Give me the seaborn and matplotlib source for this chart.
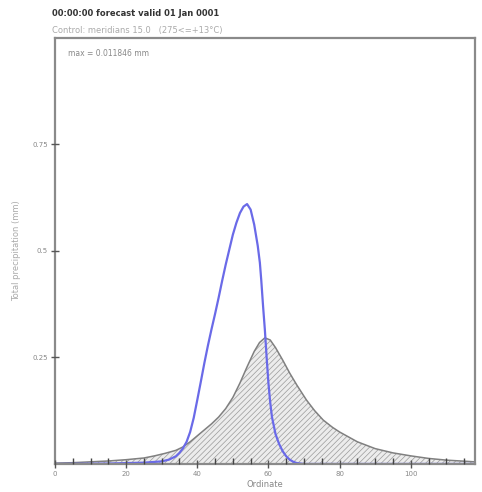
import numpy as np
import pandas as pd
import matplotlib
matplotlib.use("Agg")
import matplotlib.pyplot as plt
import seaborn as sns

# Data
blue_x = [0, 15, 25, 30, 32, 34, 35, 36, 37, 38, 39, 40, 41, 42, 43, 44, 45, 46, 47, 48, 49, 50,
          51, 52, 53, 54, 55, 56, 57, 57.6, 58, 58.5, 59, 59.5, 60, 60.5, 61, 62, 63, 64, 65, 66,
          67, 68, 70, 118]
blue_y = [0.0, 0.001, 0.003, 0.006, 0.01, 0.018, 0.026, 0.037, 0.052, 0.075, 0.108, 0.15, 0.193,
          0.237, 0.278, 0.316, 0.352, 0.39, 0.43, 0.468, 0.503, 0.538, 0.566, 0.589, 0.604,
          0.61, 0.597, 0.562, 0.512, 0.472, 0.43, 0.37, 0.315, 0.25, 0.19, 0.145, 0.11, 0.07,
          0.047, 0.03, 0.018, 0.01, 0.005, 0.002, 0.0, 0.0]

gray_x = [0, 5, 10, 15, 20, 25, 28, 31, 34, 36, 38, 40, 42, 44, 46, 48, 50, 52, 54, 56, 57.5,
          59, 60.5, 62, 64, 66, 68, 70.7, 73, 75.4, 78, 80, 85, 90, 95, 100, 105, 110, 118]
gray_y = [0.002, 0.003, 0.005, 0.007, 0.01, 0.014, 0.019, 0.025, 0.032, 0.04, 0.052, 0.066,
          0.08, 0.094, 0.11, 0.13, 0.156, 0.19, 0.228, 0.264, 0.285, 0.296, 0.291, 0.273,
          0.244, 0.213, 0.185, 0.15, 0.125, 0.103, 0.086, 0.075, 0.052, 0.036, 0.026, 0.019,
          0.013, 0.009, 0.005]

x_ticks = [0, 20, 40, 60, 80, 100]
y_ticks = [0.25, 0.5, 0.75]
y_tick_labels = ["0.25", "0.5", "0.75"]

title = "00:00:00 forecast valid 01 Jan 0001"
subtitle = "Control: meridians 15.0   (275<=+13°C)"
annot = "max = 0.011846 mm"

sns.set_style("ticks")
plt.rcParams['font.family'] = ['DejaVu Sans']
plt.rcParams['hatch.linewidth'] = 0.5
plt.rcParams['hatch.color'] = "#9a9a9a"

fig = plt.figure(figsize=(4.82, 4.92), dpi=100)
ax = fig.add_axes([0.114, 0.057, 0.871, 0.866])

gdf = pd.DataFrame({"x": gray_x, "y": gray_y})
bdf = pd.DataFrame({"x": blue_x, "y": blue_y})

ax.fill_between(gdf["x"], 0, gdf["y"], facecolor="#ececec", edgecolor="#9a9a9a",
                hatch="//////", linewidth=0, zorder=1)
sns.lineplot(data=gdf, x="x", y="y", ax=ax, color="#808080", linewidth=1.1, zorder=2)
sns.lineplot(data=bdf, x="x", y="y", ax=ax, color="#6a6ae8", linewidth=1.6, zorder=2)

ax.set_xlim(0, 118)
ax.set_ylim(0, 1.0)
ax.set_xticks(x_ticks)
ax.set_xticks(np.arange(0, 119, 5), minor=True)
ax.set_yticks(y_ticks)
ax.set_yticklabels(y_tick_labels)
ax.tick_params(axis="both", which="major", direction="inout", length=6, width=1,
               labelsize=5, colors="#555555", labelcolor="#888888", pad=2)
ax.tick_params(axis="both", which="minor", direction="in", length=4.5, width=1,
               colors="#444444")
ax.xaxis.set_zorder(6)
ax.yaxis.set_zorder(6)
ax.set_xlabel("Ordinate", fontsize=6, color="#888888", labelpad=2)
ax.set_ylabel("Total precipitation (mm)", fontsize=6, color="#aaaaaa", labelpad=8)
for s in ax.spines.values():
    s.set_color("#8a8a8a")
    s.set_linewidth(1.6)
    s.set_zorder(5)

fig.text(0.108, 0.967, title, fontsize=6, fontweight="bold", color="#333333", ha="left")
fig.text(0.108, 0.932, subtitle, fontsize=6, color="#aaaaaa", ha="left")
ax.text(0.03, 0.975, annot, transform=ax.transAxes, fontsize=5.5, color="#888888",
        ha="left", va="top")

fig.savefig("out.png", dpi=100)
